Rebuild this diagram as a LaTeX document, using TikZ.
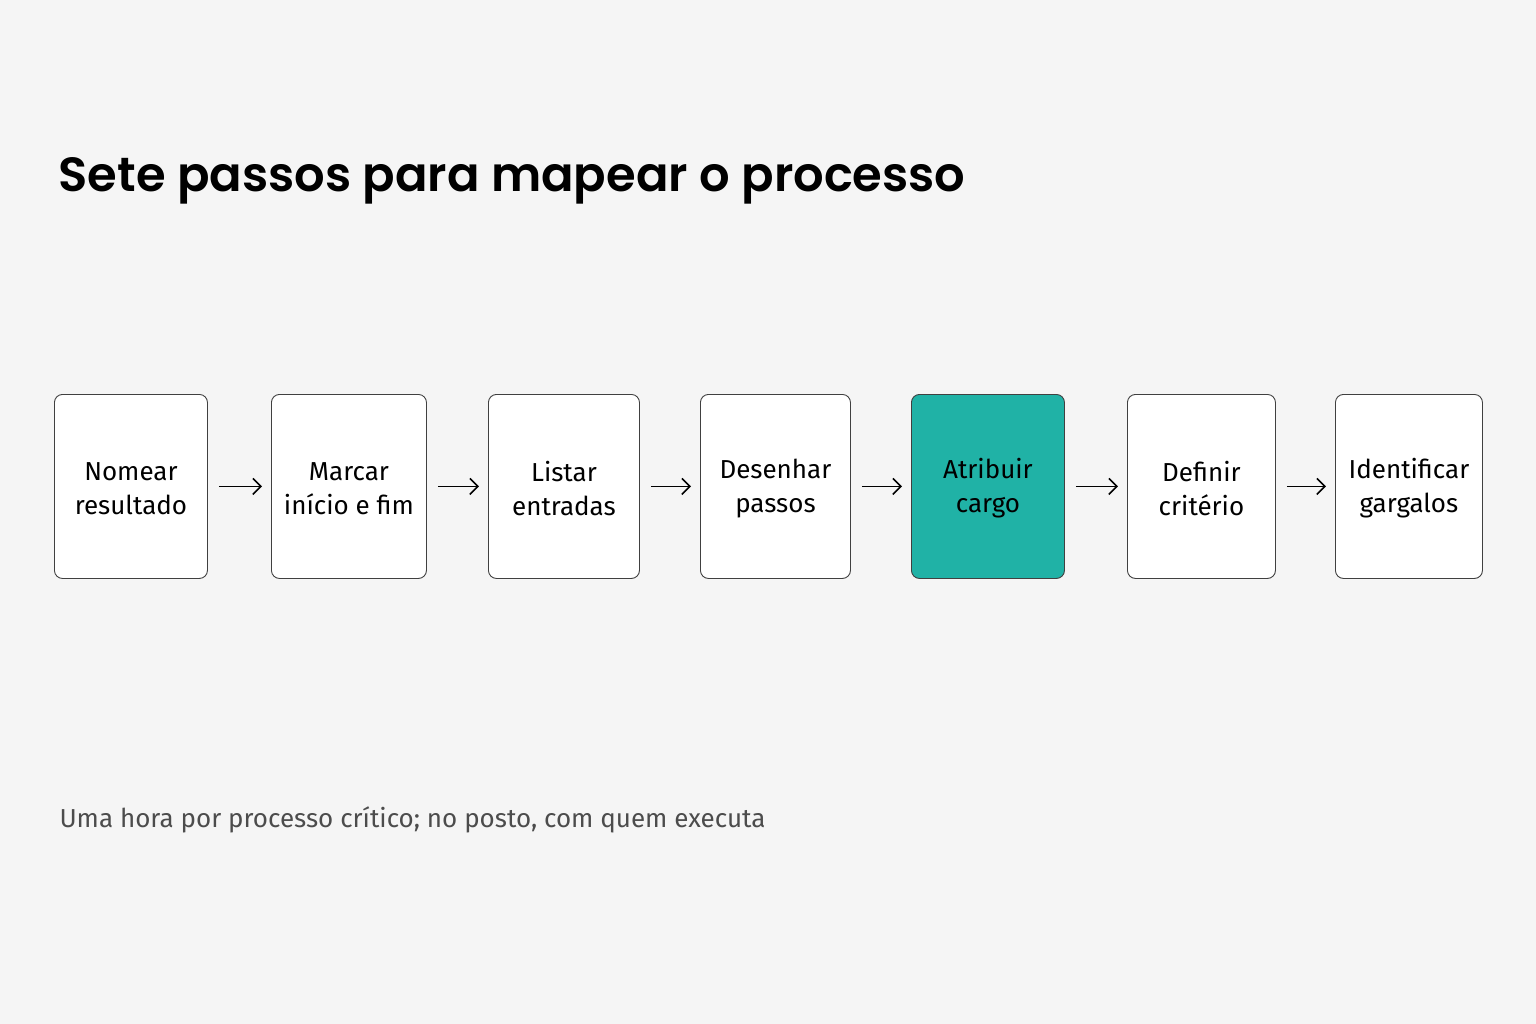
\documentclass[tikz,border=0pt]{standalone}
\usepackage{fontspec}
\setmainfont{Fira Sans}
\newfontfamily\titlefont{Poppins}[UprightFont=* SemiBold]
\usetikzlibrary{arrows.meta}
\definecolor{bg}{HTML}{F5F5F5}
\definecolor{teal}{HTML}{20B2A6}
\begin{document}
\begin{tikzpicture}[x=1pt,y=-1pt,
  box/.style={draw=black!75,line width=0.9pt,rounded corners=8pt,fill=white,anchor=north west,align=center,font=\fontsize{26}{33}\selectfont,inner sep=0pt},
  arr/.style={-{Straight Barb[length=8pt,width=16pt]},line width=1.6pt}]
\fill[bg] (0,0) rectangle (1536,1024);
\useasboundingbox (0,0) rectangle (1536,1024);
\node[anchor=base west,font=\titlefont\fontsize{48}{56}\selectfont] (t) at (55,192) {Sete passos para mapear o processo};
\foreach \n/\a/\b/\txt in {n1/54/207/{Nomear\\resultado},n2/271/426/{Marcar\\início e fim},n3/488/639/{Listar\\entradas},n4/700/850/{Desenhar\\passos},n6/1127/1275/{Definir\\critério},n7/1335/1482/{Identificar\\gargalos}}{
  \node[box,minimum width=\b-\a,minimum height=184] (\n) at (\a,394) {};
  \node at (\n.center) [align=center,font=\fontsize{26}{34}\selectfont,yshift=-2pt] {\txt};
}
\node[box,fill=teal,minimum width=153,minimum height=184] (n5) at (911,394) {};
\node at (n5.center) [align=center,font=\fontsize{26}{34}\selectfont,yshift=-2pt] {Atribuir\\cargo};
\foreach \p/\q in {n1/n2,n2/n3,n3/n4,n4/n5,n5/n6,n6/n7}{
  \draw[arr] ([xshift=11pt]\p.east) -- ([xshift=-9pt]\q.west);
}
\node[anchor=base west,text=black!70,font=\fontsize{26}{30}\selectfont] (f) at (56,827) {Uma hora por processo crítico; no posto, com quem executa};
\end{tikzpicture}
\end{document}
